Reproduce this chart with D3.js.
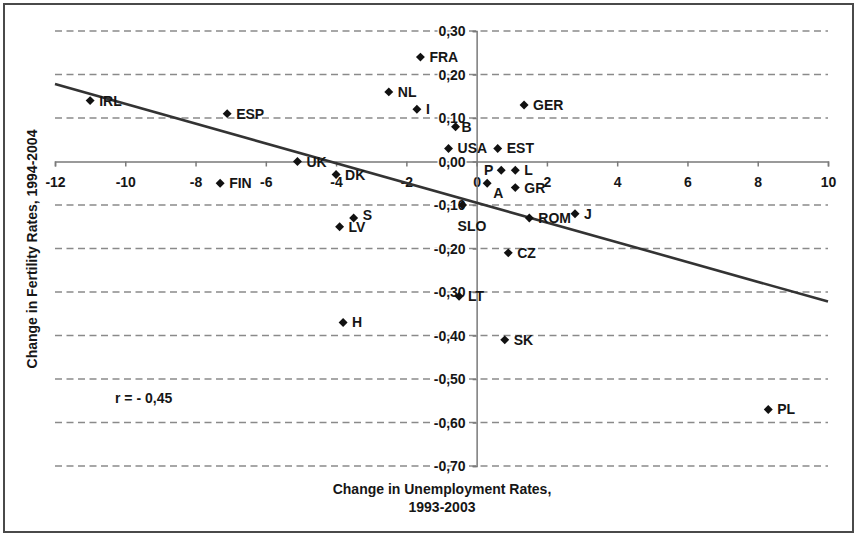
<!DOCTYPE html>
<html>
<head>
<meta charset="utf-8">
<script src="https://cdn.jsdelivr.net/npm/d3@7"></script>
<style>
  html, body { margin: 0; padding: 0; background: #fff; }
  svg { display: block; }
  text { font-family: "Liberation Sans", Arial, sans-serif; font-weight: bold; fill: #161616; }
</style>
</head>
<body>
<svg id="chart" width="856" height="535"></svg>
<script>
// Countries and their changes (unemployment 1993-2003, fertility 1994-2004)
const countries = ["IRL", "ESP", "FIN", "UK", "DK", "S", "LV", "H", "NL", "I", "FRA", "B", "USA",
                   "SLO", "LT", "A", "EST", "P", "SK", "CZ", "L", "GR", "GER", "ROM", "J", "PL"];
const unemploymentChange = [-11.0, -7.1, -7.3, -5.1, -4.0, -3.5, -3.9, -3.8, -2.5, -1.7, -1.6, -0.6, -0.8,
                            -0.4, -0.5, 0.3, 0.6, 0.7, 0.8, 0.9, 1.1, 1.1, 1.35, 1.5, 2.8, 8.3];
const fertilityChange = [0.14, 0.11, -0.05, 0.00, -0.03, -0.13, -0.15, -0.37, 0.16, 0.12, 0.24, 0.08, 0.03,
                         -0.10, -0.31, -0.05, 0.03, -0.02, -0.41, -0.21, -0.02, -0.06, 0.13, -0.13, -0.12, -0.57];

// Linear trend line endpoints
const trendX = [-12, 10];
const trendY = [0.178, -0.322];

const xTicks = [-12, -10, -8, -6, -4, -2, 0, 2, 4, 6, 8, 10];
const yTicks = [0.3, 0.2, 0.1, 0.0, -0.1, -0.2, -0.3, -0.4, -0.5, -0.6, -0.7];

const correlationLabel = "r = - 0,45";
const xTitle = ["Change in Unemployment Rates,", "1993-2003"];
const yTitle = "Change in Fertility Rates, 1994-2004";

// Label placement tweaks for crowded points
const labelPlacement = {
  P:   { dx: -8, dy: 0, anchor: "end" },
  A:   { dx: 6, dy: 10, anchor: "start" },
  SLO: { dx: -5, dy: 21, anchor: "start" },
  B:   { dx: 6, dy: 0, anchor: "start" },
  S:   { dx: 9, dy: -3, anchor: "start" }
};

const svg = d3.select("#chart");

// Outer frame
svg.append("rect")
  .attr("x", 4).attr("y", 4).attr("width", 849).attr("height", 528)
  .attr("fill", "#fff").attr("stroke", "#4a4a4a").attr("stroke-width", 2);

const x = d3.scaleLinear().domain([-12, 10]).range([55, 828]);
const y = d3.scaleLinear().domain([0.3, -0.7]).range([31, 466]);

const fmtY = v => d3.format(".2f")(v).replace(".", ",").replace("−", "-");

// Dashed horizontal gridlines
svg.append("g")
  .selectAll("line")
  .data(yTicks.filter(v => Math.abs(v) > 1e-9))
  .join("line")
  .attr("x1", x(-12)).attr("x2", x(10))
  .attr("y1", d => y(d)).attr("y2", d => y(d))
  .attr("stroke", "#8a8a8a")
  .attr("stroke-width", 1.4)
  .attr("stroke-dasharray", "7,4.5");

// X axis through y = 0
const xAxis = svg.append("g")
  .attr("transform", `translate(0,${y(0)})`)
  .call(d3.axisBottom(x).tickValues(xTicks).tickSize(5).tickSizeOuter(5).tickFormat(d => String(d)));
xAxis.select(".domain").attr("stroke", "#7a7a7a").attr("stroke-width", 1.5);
xAxis.selectAll(".tick line").attr("stroke", "#7a7a7a").attr("stroke-width", 1.5);
xAxis.selectAll(".tick text")
  .attr("y", 21).attr("dy", "0.35em")
  .style("font-size", "14px").style("font-family", "Liberation Sans, Arial, sans-serif")
  .style("font-weight", "bold").attr("fill", "#161616");

// Y axis through x = 0
const yAxis = svg.append("g")
  .attr("transform", `translate(${x(0)},0)`)
  .call(d3.axisLeft(y).tickValues(yTicks).tickSize(4).tickSizeOuter(4).tickFormat(fmtY));
yAxis.select(".domain").attr("stroke", "#7a7a7a").attr("stroke-width", 1.5);
yAxis.selectAll(".tick line").attr("stroke", "#7a7a7a").attr("stroke-width", 1.5);
yAxis.selectAll(".tick text")
  .attr("x", -11).attr("dy", "0.35em")
  .style("font-size", "14px").style("font-family", "Liberation Sans, Arial, sans-serif")
  .style("font-weight", "bold").attr("fill", "#161616")
  .attr("stroke", "#fff").attr("stroke-width", 3).attr("paint-order", "stroke");

// Trend line
svg.append("line")
  .attr("x1", x(trendX[0])).attr("y1", y(trendY[0]))
  .attr("x2", x(trendX[1])).attr("y2", y(trendY[1]))
  .attr("stroke", "#333").attr("stroke-width", 2.6);

// Points
const points = countries.map((c, i) => ({ name: c, ux: unemploymentChange[i], fy: fertilityChange[i] }));
const diamond = d3.symbol().type(d3.symbolSquare).size(40);

const pg = svg.append("g");
pg.selectAll("path")
  .data(points)
  .join("path")
  .attr("d", diamond)
  .attr("transform", d => `translate(${x(d.ux)},${y(d.fy)}) rotate(45)`)
  .attr("fill", "#111");

pg.selectAll("text")
  .data(points)
  .join("text")
  .attr("x", d => x(d.ux) + (labelPlacement[d.name] ? labelPlacement[d.name].dx : 9))
  .attr("y", d => y(d.fy) + (labelPlacement[d.name] ? labelPlacement[d.name].dy : 0))
  .attr("dy", "0.36em")
  .attr("text-anchor", d => labelPlacement[d.name] ? labelPlacement[d.name].anchor : "start")
  .style("font-size", "14px")
  .text(d => d.name);

// Correlation note
svg.append("text")
  .attr("x", 115).attr("y", 398).attr("dy", "0.36em")
  .style("font-size", "14px")
  .text(correlationLabel);

// Axis titles
svg.append("text")
  .attr("text-anchor", "middle")
  .style("font-size", "14px")
  .selectAll("tspan")
  .data(xTitle)
  .join("tspan")
  .attr("x", 442)
  .attr("y", (d, i) => 494 + i * 18)
  .text(d => d);

svg.append("text")
  .attr("transform", `translate(37,249) rotate(-90)`)
  .attr("text-anchor", "middle")
  .style("font-size", "14px")
  .text(yTitle);
</script>
</body>
</html>
